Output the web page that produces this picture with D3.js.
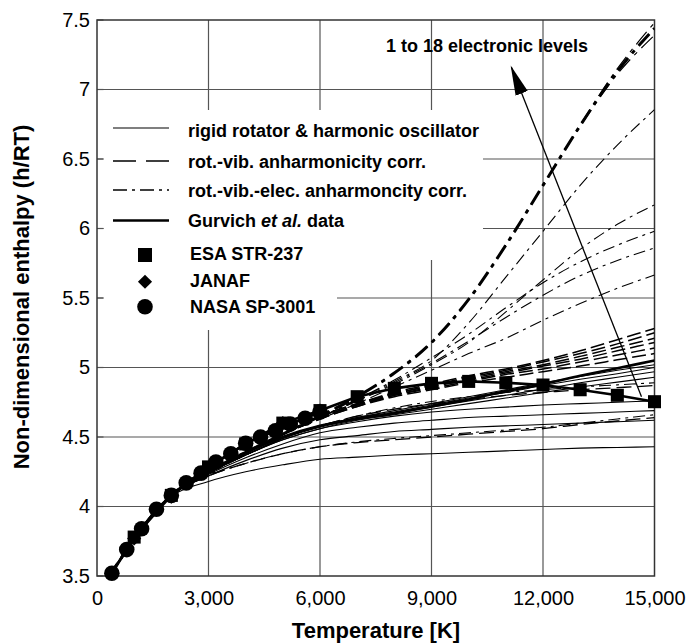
<!DOCTYPE html>
<html>
<head>
<meta charset="utf-8">
<script src="https://cdnjs.cloudflare.com/ajax/libs/d3/7.8.5/d3.min.js"></script>
<style>
body { margin: 0; background: #fff; }
text { font-family: "Liberation Sans", Arial, sans-serif; }
</style>
</head>
<body>
<script>
// shared low temperature part of every curve
var lowT = [298, 500, 1000, 1500];
var lowH = [3.50, 3.57, 3.77, 3.94];
// temperatures where the curves separate
var highT = [2000, 3000, 4000, 5000, 6000, 7000, 8000, 9000, 10000, 11000, 12000, 13000, 14000, 15000];

// rigid rotator & harmonic oscillator (thin solid)
var rrho = [
    [4.07, 4.18, 4.25, 4.30, 4.34, 4.355, 4.37, 4.38, 4.39, 4.40, 4.41, 4.42, 4.425, 4.43],
    [4.08, 4.22, 4.33, 4.42, 4.48, 4.51, 4.54, 4.555, 4.57, 4.58, 4.59, 4.60, 4.61, 4.62],
    [4.08, 4.23, 4.35, 4.45, 4.53, 4.57, 4.60, 4.62, 4.64, 4.65, 4.66, 4.67, 4.68, 4.69],
    [4.08, 4.24, 4.37, 4.48, 4.56, 4.61, 4.65, 4.68, 4.70, 4.715, 4.73, 4.74, 4.75, 4.76],
    [4.08, 4.24, 4.37, 4.48, 4.56, 4.62, 4.66, 4.70, 4.74, 4.78, 4.82, 4.86, 4.895, 4.93],
    [4.08, 4.24, 4.37, 4.49, 4.57, 4.63, 4.67, 4.715, 4.76, 4.80, 4.845, 4.89, 4.93, 4.97],
    [4.08, 4.245, 4.38, 4.50, 4.58, 4.64, 4.68, 4.73, 4.78, 4.82, 4.87, 4.915, 4.955, 5.00],
    [4.08, 4.245, 4.38, 4.50, 4.58, 4.64, 4.69, 4.74, 4.79, 4.84, 4.89, 4.935, 4.98, 5.02]
];
// Gurvich et al. data (thick solid)
var gurvich = [4.08, 4.25, 4.39, 4.50, 4.58, 4.63, 4.67, 4.72, 4.77, 4.83, 4.88, 4.94, 4.995, 5.05];

// rot.-vib. anharmonicity corr. (dashed)
var anharm = [
    [4.08, 4.22, 4.31, 4.38, 4.43, 4.46, 4.48, 4.50, 4.52, 4.54, 4.56, 4.59, 4.615, 4.64],
    [4.08, 4.24, 4.37, 4.49, 4.58, 4.65, 4.70, 4.74, 4.77, 4.80, 4.82, 4.84, 4.855, 4.87],
    [4.08, 4.245, 4.39, 4.52, 4.63, 4.72, 4.79, 4.84, 4.89, 4.93, 4.97, 5.01, 5.055, 5.10],
    [4.08, 4.245, 4.39, 4.52, 4.63, 4.72, 4.80, 4.85, 4.90, 4.95, 4.99, 5.04, 5.09, 5.14],
    [4.08, 4.245, 4.39, 4.52, 4.64, 4.73, 4.80, 4.86, 4.91, 4.96, 5.01, 5.06, 5.12, 5.18],
    [4.08, 4.245, 4.39, 4.52, 4.64, 4.73, 4.81, 4.87, 4.92, 4.97, 5.02, 5.08, 5.145, 5.21],
    [4.08, 4.245, 4.39, 4.52, 4.65, 4.74, 4.81, 4.87, 4.93, 4.98, 5.04, 5.10, 5.17, 5.25],
    [4.08, 4.245, 4.39, 4.52, 4.65, 4.74, 4.82, 4.88, 4.94, 4.99, 5.05, 5.12, 5.20, 5.28]
];

// rot.-vib.-elec. anharmonicity corr. (dash-dot), 1 to 18 electronic levels
var anharmElec = [
    [4.08, 4.22, 4.31, 4.38, 4.43, 4.465, 4.49, 4.51, 4.53, 4.55, 4.57, 4.60, 4.63, 4.66],
    [4.08, 4.24, 4.37, 4.49, 4.58, 4.65, 4.71, 4.755, 4.79, 4.82, 4.84, 4.86, 4.875, 4.89],
    [4.08, 4.245, 4.39, 4.52, 4.63, 4.74, 4.86, 4.98, 5.10, 5.21, 5.34, 5.46, 5.57, 5.665],
    [4.08, 4.245, 4.39, 4.52, 4.64, 4.76, 4.89, 5.03, 5.19, 5.36, 5.52, 5.66, 5.77, 5.86],
    [4.08, 4.245, 4.39, 4.52, 4.64, 4.77, 4.91, 5.07, 5.24, 5.43, 5.61, 5.76, 5.88, 5.98],
    [4.08, 4.245, 4.39, 4.52, 4.64, 4.76, 4.88, 5.02, 5.18, 5.40, 5.63, 5.85, 6.03, 6.17],
    [4.08, 4.245, 4.39, 4.52, 4.64, 4.77, 4.90, 5.05, 5.32, 5.65, 5.98, 6.31, 6.60, 6.855]
];
// the many-level curves that end in the top bundle
var anharmElecTop = [
    [4.08, 4.245, 4.39, 4.52, 4.65, 4.79, 4.96, 5.18, 5.49, 5.88, 6.31, 6.735, 7.11, 7.39],
    [4.08, 4.245, 4.39, 4.52, 4.65, 4.79, 4.96, 5.18, 5.49, 5.88, 6.31, 6.745, 7.15, 7.48]
];
var anharmElecBold = [4.08, 4.245, 4.39, 4.52, 4.65, 4.79, 4.96, 5.18, 5.49, 5.88, 6.31, 6.74, 7.13, 7.44];

// reference data
var esaT = [1000, 2000, 3000, 4000, 5000, 6000, 7000, 8000, 9000, 10000, 11000, 12000, 13000, 14000, 15000];
var esaH = [3.78, 4.08, 4.285, 4.45, 4.60, 4.69, 4.79, 4.85, 4.886, 4.90, 4.89, 4.874, 4.84, 4.80, 4.754];
var janafT = [1000, 2000, 3000, 4000, 5000, 6000];
var janafH = [3.77, 4.07, 4.28, 4.45, 4.60, 4.69];
var nasaT = [400, 800, 1200, 1600, 2000, 2400, 2800, 3200, 3600, 4000, 4400, 4800, 5200, 5600, 6000];
var nasaH = [3.52, 3.69, 3.84, 3.98, 4.08, 4.17, 4.24, 4.32, 4.38, 4.455, 4.50, 4.545, 4.594, 4.635, 4.68];

var xTicks = [0, 3000, 6000, 9000, 12000, 15000];
var yTicks = [3.5, 4, 4.5, 5, 5.5, 6, 6.5, 7, 7.5];
var lineLabels = ["rigid rotator & harmonic oscillator", "rot.-vib. anharmonicity corr.",
    "rot.-vib.-elec. anharmoncity corr.", "Gurvich "];
var markerLabels = ["ESA STR-237", "JANAF", "NASA SP-3001"];
var noteText = "1 to 18 electronic levels";
var arrowFrom = [14650, 4.79], arrowTo = [11150, 7.16];

var w = 687, h = 644;
var svg = d3.select("body").append("svg").attr("width", w).attr("height", h);

var x = d3.scaleLinear().domain([0, 15000]).range([97, 654.5]);
var y = d3.scaleLinear().domain([3.5, 7.5]).range([576, 20]);

function pts(vals){
    var t = lowT.concat(highT), v = lowH.concat(vals);
    return t.map(function(d, i){ return [d, v[i]]; });
}
var line = d3.line()
    .x(function(d){ return x(d[0]); })
    .y(function(d){ return y(d[1]); })
    .curve(d3.curveMonotoneX);

svg.append("clipPath").attr("id", "plot")
    .append("rect").attr("x", 97).attr("y", 20).attr("width", 557.5).attr("height", 556);

// grid
svg.append("g").selectAll("line").data(xTicks.slice(1, -1)).enter().append("line")
    .attr("x1", x).attr("x2", x).attr("y1", y(3.5)).attr("y2", y(7.5))
    .attr("stroke", "#555").attr("stroke-width", 1.2);
svg.append("g").selectAll("line").data(yTicks.slice(1, -1)).enter().append("line")
    .attr("y1", y).attr("y2", y).attr("x1", x(0)).attr("x2", x(15000))
    .attr("stroke", "#555").attr("stroke-width", 1.2);

// white legend background
svg.append("rect").attr("x", 103.5).attr("y", 110).attr("width", 379.5).attr("height", 150).attr("fill", "#fff");
svg.append("rect").attr("x", 103.5).attr("y", 259).attr("width", 233.5).attr("height", 71).attr("fill", "#fff");

// inward ticks on left axis
svg.append("g").selectAll("line").data(yTicks).enter().append("line")
    .attr("y1", y).attr("y2", y).attr("x1", 97).attr("x2", 103.5)
    .attr("stroke", "#555").attr("stroke-width", 1.2);

// frame
svg.append("rect").attr("x", 97).attr("y", 20).attr("width", 557.5).attr("height", 556)
    .attr("fill", "none").attr("stroke", "#333").attr("stroke-width", 1.5);

var curves = svg.append("g").attr("clip-path", "url(#plot)").attr("fill", "none").attr("stroke", "#000");

function draw(list, width, dash){
    curves.selectAll(null).data(list).enter().append("path")
        .attr("d", function(d){ return line(pts(d)); })
        .attr("stroke-width", width)
        .attr("stroke-dasharray", dash);
}
draw(rrho, 1.1, null);
draw(anharm.slice(0, 2), 1.3, "15,6");
draw(anharm.slice(2), 1.5, "14,5");
draw(anharmElec, 1.1, "12,5,3,5");
draw(anharmElecTop, 1.2, "16,6,4,6");
draw([anharmElecBold], 3, "16,6,4,6");
draw([gurvich], 2.6, null);

// reference data with markers
var straight = d3.line().x(function(d){ return x(d[0]); }).y(function(d){ return y(d[1]); });
var esa = esaT.map(function(t, i){ return [t, esaH[i]]; });
var janaf = janafT.map(function(t, i){ return [t, janafH[i]]; });
var nasa = nasaT.map(function(t, i){ return [t, nasaH[i]]; });

svg.append("path").attr("d", straight(esa)).attr("fill", "none").attr("stroke", "#000").attr("stroke-width", 2.6);
svg.append("path").attr("d", straight(nasa)).attr("fill", "none").attr("stroke", "#000").attr("stroke-width", 2.6);

var sq = d3.symbol().type(d3.symbolSquare).size(170);
var dm = d3.symbol().type(d3.symbolSquare).size(100);
svg.append("g").selectAll("path").data(esa).enter().append("path")
    .attr("d", sq).attr("transform", function(d){ return "translate(" + x(d[0]) + "," + y(d[1]) + ")"; });
svg.append("g").selectAll("path").data(janaf).enter().append("path")
    .attr("d", dm).attr("transform", function(d){ return "translate(" + x(d[0]) + "," + y(d[1]) + ") rotate(45)"; });
svg.append("g").selectAll("circle").data(nasa).enter().append("circle")
    .attr("cx", function(d){ return x(d[0]); }).attr("cy", function(d){ return y(d[1]); }).attr("r", 7.8);

// arrow and note
svg.append("defs").append("marker").attr("id", "head")
    .attr("markerUnits", "userSpaceOnUse").attr("markerWidth", 30).attr("markerHeight", 16)
    .attr("viewBox", "0 -8 30 16").attr("refX", 28).attr("refY", 0).attr("orient", "auto")
    .append("path").attr("d", "M0,-6.5L30,0L0,6.5Z").attr("fill", "#000");
svg.append("line")
    .attr("x1", x(arrowFrom[0])).attr("y1", y(arrowFrom[1]))
    .attr("x2", x(arrowTo[0])).attr("y2", y(arrowTo[1]))
    .attr("stroke", "#000").attr("stroke-width", 1.3).attr("marker-end", "url(#head)");
svg.append("text").attr("x", 588).attr("y", 52).attr("text-anchor", "end")
    .attr("font-size", 18).attr("font-weight", "bold").text(noteText);

// axes
var xAxis = svg.append("g").attr("transform", "translate(0,576)")
    .call(d3.axisBottom(x).tickValues(xTicks).tickSize(0).tickPadding(15).tickFormat(d3.format(",")));
var yAxis = svg.append("g").attr("transform", "translate(97,0)")
    .call(d3.axisLeft(y).tickValues(yTicks).tickSize(0).tickPadding(7).tickFormat(function(d){ return String(d); }));
[xAxis, yAxis].forEach(function(a){
    a.select(".domain").remove();
    a.selectAll("text").attr("font-size", 20).attr("fill", "#000")
        .attr("font-family", "'Liberation Sans', Arial, sans-serif");
});

svg.append("text").attr("x", 376).attr("y", 638).attr("text-anchor", "middle")
    .attr("font-size", 22).attr("font-weight", "bold").text("Temperature [K]");
svg.append("text").attr("transform", "translate(29,297) rotate(-90)").attr("text-anchor", "middle")
    .attr("font-size", 22).attr("font-weight", "bold").text("Non-dimensional enthalpy (h/RT)");

// legend
var legLineY = [128, 161, 190, 220.5], legTextY = [136.5, 168, 197, 227];
var legStyle = [[1.1, null], [1.3, "23,10"], [1.3, "14,5,3,5"], [2.6, null]];
var leg = svg.append("g");
lineLabels.forEach(function(lbl, i){
    leg.append("line").attr("x1", 113).attr("x2", 169).attr("y1", legLineY[i]).attr("y2", legLineY[i])
        .attr("stroke", "#000").attr("stroke-width", legStyle[i][0]).attr("stroke-dasharray", legStyle[i][1]);
    var t = leg.append("text").attr("x", 188).attr("y", legTextY[i])
        .attr("font-size", 18).attr("font-weight", "bold").text(lbl);
    if (i === 3) {
        t.append("tspan").attr("font-style", "italic").text("et al.");
        t.append("tspan").text(" data");
    }
});
var legMarkY = [255, 281.7, 306.7], legMarkTextY = [260, 286.5, 313];
leg.append("path").attr("d", d3.symbol().type(d3.symbolSquare).size(196)).attr("transform", "translate(145," + legMarkY[0] + ")");
leg.append("path").attr("d", d3.symbol().type(d3.symbolSquare).size(100)).attr("transform", "translate(145," + legMarkY[1] + ") rotate(45)");
leg.append("circle").attr("cx", 145).attr("cy", legMarkY[2]).attr("r", 7.8);
markerLabels.forEach(function(lbl, i){
    leg.append("text").attr("x", 190).attr("y", legMarkTextY[i])
        .attr("font-size", 18).attr("font-weight", "bold").text(lbl);
});
</script>
</body>
</html>
